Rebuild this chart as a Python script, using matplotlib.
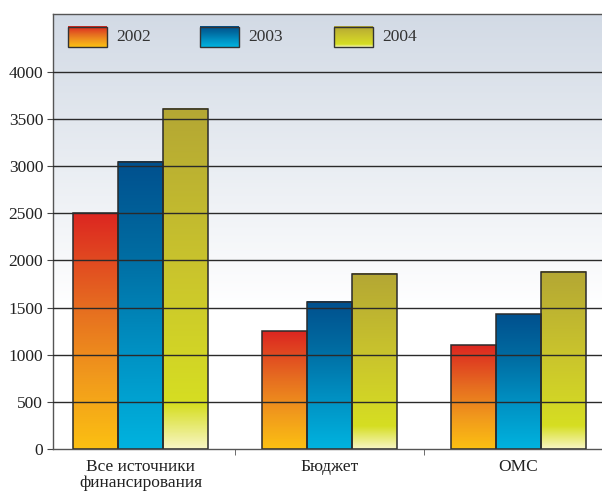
import numpy as np
import matplotlib
matplotlib.use("Agg")
import matplotlib.pyplot as plt
from matplotlib.colors import LinearSegmentedColormap

# data
categories = ["Все источники\nфинансирования", "Бюджет", "ОМС"]
years = ["2002", "2003", "2004"]
values_2002 = [2500, 1250, 1100]
values_2003 = [3050, 1560, 1430]
values_2004 = [3610, 1860, 1880]
series = [values_2002, values_2003, values_2004]
yticks = [0, 500, 1000, 1500, 2000, 2500, 3000, 3500, 4000]

# bottom -> top colour ramps for each year
cmaps = [
    LinearSegmentedColormap.from_list("c2002", [(0, "#fcc012"), (0.3, "#f19a1c"),
                                               (0.6, "#e66d20"), (1, "#dc2621")]),
    LinearSegmentedColormap.from_list("c2003", [(0, "#00b3df"), (0.35, "#0090c2"),
                                               (0.7, "#006aa0"), (1, "#00508e")]),
    LinearSegmentedColormap.from_list("c2004", [(0, "#f8f6c4"), (0.13, "#d6de22"),
                                               (0.5, "#cbc62c"), (1, "#b4a734")]),
]
bg_cmap = LinearSegmentedColormap.from_list("bg", [(0, "#ffffff"), (1, "#d2dae5")])

plt.rcParams["font.family"] = ["Liberation Serif", "DejaVu Serif"]
plt.rcParams["font.size"] = 12.5

fig = plt.figure(figsize=(6.02, 4.91), dpi=100)
ax = fig.add_axes([0.088, 0.0855, 0.912, 0.886])

xmin, xmax = -0.463, 2.442
ymax = 4615
width = 0.238
x = np.arange(len(categories))

# background gradient, white below ~1500
ramp = np.linspace(0, ymax, 400)
bg = np.clip((ramp - 1500) / (ymax - 1500), 0, 1).reshape(-1, 1)
ax.imshow(bg, cmap=bg_cmap, vmin=0, vmax=1, extent=[xmin, xmax, 0, ymax],
          origin="lower", aspect="auto", zorder=0)

grad = np.linspace(0, 1, 256).reshape(-1, 1)
for i, (vals, cmap) in enumerate(zip(series, cmaps)):
    offs = x + (i - 1) * width
    for xc, v in zip(offs, vals):
        ax.imshow(grad, cmap=cmap, extent=[xc - width / 2, xc + width / 2, 0, v],
                  origin="lower", aspect="auto", zorder=1)
    ax.bar(offs, vals, width, facecolor="none", edgecolor="#2b2b2b",
           linewidth=1.1, zorder=2)

# gridlines drawn over the bars
for t in yticks[1:]:
    ax.axhline(t, color="#2a2a2a", linewidth=1.0, zorder=3)

ax.set_xlim(xmin, xmax)
ax.set_ylim(0, ymax)
ax.set_yticks(yticks)
ax.set_xticks(x)
ax.set_xticklabels(categories, linespacing=1.0, color="#222222")
ax.set_xticks([0.5, 1.5], minor=True)
ax.tick_params(axis="x", which="major", length=0, pad=7)
ax.tick_params(axis="x", which="minor", length=4, color="#555555")
ax.tick_params(axis="y", length=4, color="#444444", pad=3, labelcolor="#222222")

for side in ["top", "left", "bottom"]:
    ax.spines[side].set_color("#555555")
    ax.spines[side].set_linewidth(1.0)
ax.spines["right"].set_visible(False)

# legend with gradient swatches
sw_x = [0.027, 0.268, 0.511]
for xs, yr, cmap in zip(sw_x, years, cmaps):
    ax.imshow(grad, cmap=cmap, extent=[xs, xs + 0.071, 0.925, 0.971],
              origin="lower", aspect="auto", transform=ax.transAxes, zorder=4)
    ax.add_patch(plt.Rectangle((xs, 0.925), 0.071, 0.046, transform=ax.transAxes,
                               facecolor="none", edgecolor="#333333",
                               linewidth=1.0, zorder=5))
    ax.text(xs + 0.088, 0.946, yr, transform=ax.transAxes, va="center",
            ha="left", color="#333333", zorder=5)

ax.set_xlim(xmin, xmax)
ax.set_ylim(0, ymax)

fig.savefig("out.png", dpi=100)
